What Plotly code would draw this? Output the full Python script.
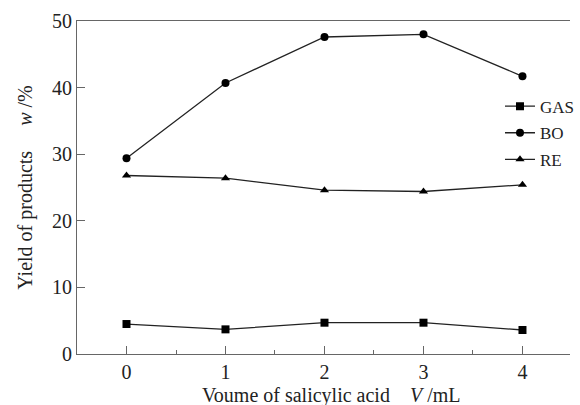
import plotly.graph_objects as go

volume = [0, 1, 2, 3, 4]
gas = [4.5, 3.7, 4.7, 4.7, 3.6]
bo = [29.4, 40.7, 47.6, 48.0, 41.7]
re_ = [26.8, 26.4, 24.6, 24.4, 25.4]

series = [("GAS", gas, "square"), ("BO", bo, "circle"), ("RE", re_, "triangle-up")]

FONT = "Liberation Serif"
LINE = "#222222"
AX = "#666666"
FS = 20

fig = go.Figure()
for name, vals, sym in series:
    fig.add_trace(go.Scatter(
        x=volume, y=vals, name=name, mode="lines+markers", legendgroup=name,
        line=dict(color=LINE, width=1.3),
        marker=dict(symbol=sym, size=8, color="black"),
    ))

SP = "&nbsp;"
fig.update_layout(
    width=580, height=405,
    margin=dict(l=77, r=0, t=21, b=51),
    paper_bgcolor="white", plot_bgcolor="white",
    font=dict(family=FONT, size=FS, color="#222222"),
    showlegend=True,
    legend=dict(x=0.858, y=0.797, xanchor="left", yanchor="top",
                bgcolor="rgba(0,0,0,0)", font=dict(size=17, family=FONT),
                itemwidth=30, tracegroupgap=1.5, traceorder="grouped"),
    xaxis=dict(
        range=[-0.5, 4.48], tickmode="array", tickvals=volume,
        ticktext=[str(v) for v in volume],
        ticks="inside", ticklen=8, tickcolor=AX, tickwidth=1,
        showline=True, linecolor=AX, linewidth=1, mirror=True,
        showgrid=False, zeroline=False, automargin=False,
        minor=dict(dtick=0.5, tick0=0, ticks="inside", ticklen=4, tickcolor=AX),
        tickfont=dict(size=FS),
    ),
    yaxis=dict(
        range=[0, 50], tickvals=[0, 10, 20, 30, 40, 50],
        ticks="inside", ticklen=8, tickcolor=AX, tickwidth=1,
        showline=True, linecolor=AX, linewidth=1, mirror=False,
        showgrid=False, zeroline=False, automargin=False,
        tickfont=dict(size=FS),
    ),
    annotations=[
        dict(text="Voume of salicylic acid" + SP * 4 + "<i>V</i> /mL", xref="paper", yref="paper",
             x=0.515, y=-0.126, xanchor="center", yanchor="middle", showarrow=False,
             font=dict(size=FS)),
        dict(text="Yield of products" + SP * 5 + "<i>w</i> /%", xref="paper", yref="paper",
             x=-0.105, y=0.5, xanchor="center", yanchor="middle", showarrow=False,
             textangle=-90, font=dict(size=FS)),
    ],
)

fig.write_html("out.html", config={"displayModeBar": False},
               post_script="document.body.style.margin='0px';")
